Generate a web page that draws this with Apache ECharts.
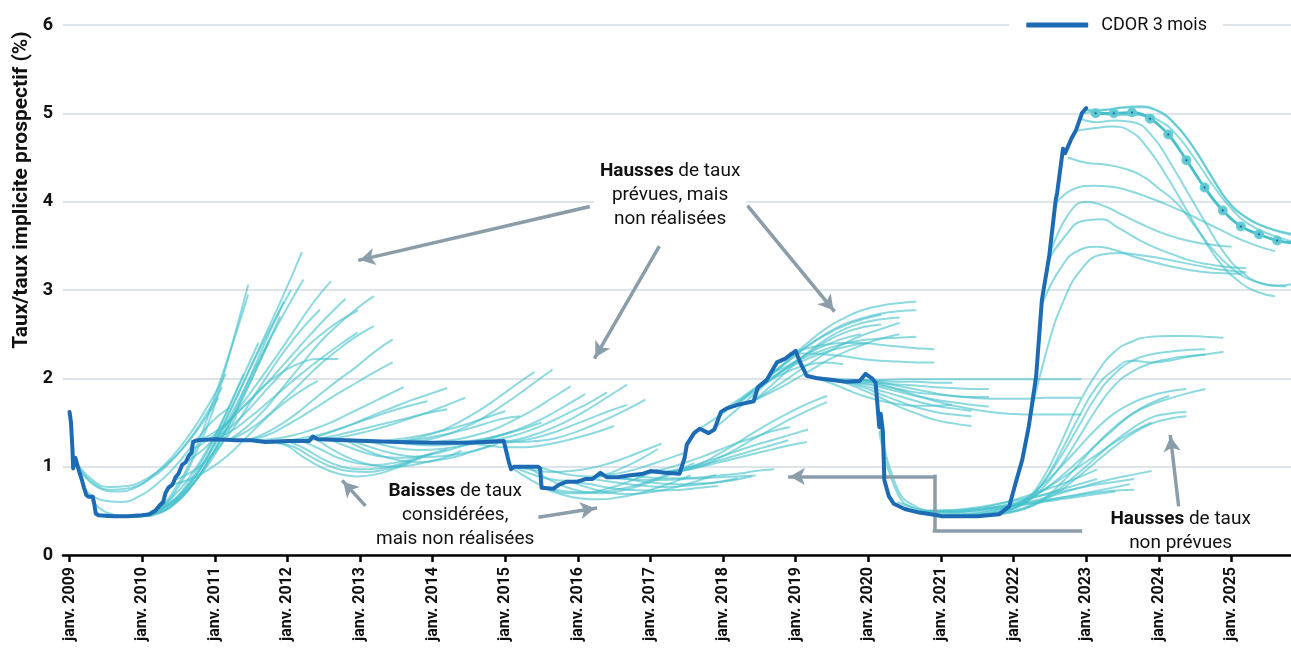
<!DOCTYPE html>
<html><head><meta charset="utf-8">
<script src="https://cdn.jsdelivr.net/npm/echarts@6/dist/echarts.min.js"></script>
<style>html,body{margin:0;padding:0;background:#fff}#c{width:1291px;height:666px}</style>
</head><body><div id="c"></div>
<script>
// ---------- DATA ----------
const STEP = 0.25; // forward-curve points are quarterly
const yearTicks = [2009,2010,2011,2012,2013,2014,2015,2016,2017,2018,2019,2020,2021,2022,2023,2024,2025];
const yTicks = [0,1,2,3,4,5,6];

// CDOR 3 mois : [année, taux %]
const cdor = [
[2009.0,1.62],[2009.02,1.5],[2009.04,1.2],[2009.05,0.98],[2009.07,1.0],[2009.08,1.1],[2009.1,1.08],[2009.13,0.95],[2009.17,0.85],[2009.2,0.76],[2009.23,0.68],[2009.26,0.66],[2009.32,0.66],[2009.34,0.58],[2009.36,0.47],[2009.4,0.45],[2009.6,0.44],[2009.8,0.44],[2010.0,0.45],[2010.1,0.46],[2010.18,0.5],[2010.24,0.56],[2010.29,0.6],[2010.32,0.7],[2010.36,0.76],[2010.42,0.8],[2010.46,0.88],[2010.5,0.92],[2010.55,1.02],[2010.6,1.05],[2010.64,1.12],[2010.68,1.16],[2010.7,1.28],[2010.76,1.3],[2011.0,1.31],[2011.3,1.3],[2011.5,1.3],[2011.7,1.28],[2012.0,1.29],[2012.3,1.29],[2012.35,1.34],[2012.42,1.31],[2012.8,1.3],[2013.5,1.28],[2014.0,1.27],[2014.5,1.27],[2014.98,1.29],[2015.05,1.05],[2015.08,0.97],[2015.12,1.0],[2015.45,1.0],[2015.48,0.98],[2015.5,0.76],[2015.66,0.75],[2015.75,0.8],[2015.85,0.83],[2016.0,0.83],[2016.1,0.86],[2016.2,0.86],[2016.31,0.93],[2016.4,0.88],[2016.55,0.88],[2016.7,0.9],[2016.9,0.92],[2017.0,0.95],[2017.2,0.93],[2017.4,0.92],[2017.47,1.1],[2017.5,1.25],[2017.6,1.38],[2017.68,1.43],[2017.8,1.38],[2017.88,1.42],[2017.97,1.62],[2018.05,1.66],[2018.2,1.7],[2018.42,1.74],[2018.48,1.9],[2018.6,1.98],[2018.74,2.18],[2018.85,2.22],[2019.0,2.31],[2019.05,2.2],[2019.15,2.03],[2019.3,2.0],[2019.5,1.98],[2019.7,1.96],[2019.88,1.97],[2019.96,2.05],[2020.05,2.0],[2020.1,1.95],[2020.15,1.45],[2020.17,1.6],[2020.2,1.4],[2020.22,0.85],[2020.28,0.67],[2020.35,0.58],[2020.5,0.52],[2020.7,0.48],[2020.95,0.45],[2021.0,0.44],[2021.5,0.44],[2021.8,0.46],[2021.94,0.55],[2022.03,0.82],[2022.12,1.08],[2022.21,1.46],[2022.31,2.02],[2022.39,2.89],[2022.49,3.38],[2022.58,4.02],[2022.6,4.1],[2022.68,4.6],[2022.71,4.55],[2022.8,4.72],[2022.86,4.81],[2022.94,5.0],[2023.0,5.06]
];

// Dernière courbe de taux implicites (avec marqueurs)
const latestStart = 2023.13;
const latestCurve = [5.0,5.0,5.01,4.94,4.76,4.47,4.16,3.9,3.72,3.63,3.56,3.53];

// Courbes de taux implicites : [début, [valeurs trimestrielles]]
const curves2009 = [
[2009.05,[1.1,0.86,0.77,0.78,0.86,1.0,1.2,1.46,1.78]],
[2009.1,[1.02,0.8,0.74,0.76,0.86,1.02,1.25,1.55,1.9]],
[2009.15,[0.95,0.76,0.72,0.76,0.9,1.1,1.36,1.68,2.05]],
[2009.2,[0.75,0.62,0.6,0.66,0.8,1.0,1.25,1.5,1.67]],
[2009.3,[0.62,0.47,0.44,0.46,0.54,0.68,0.9,1.2,1.58]],
[2009.4,[0.45,0.43,0.44,0.5,0.64,0.88,1.2,1.6,2.05]],
[2009.46,[0.44,0.43,0.44,0.5,0.72,1.1,1.6,2.3,3.06]],
[2009.46,[0.44,0.43,0.45,0.52,0.76,1.15,1.7,2.3,2.95]],
[2009.6,[0.44,0.43,0.46,0.56,0.78,1.1,1.5,1.95,2.4]],
[2009.75,[0.44,0.44,0.48,0.62,0.86,1.18,1.56,1.98,2.42]],
[2009.9,[0.44,0.46,0.56,0.76,1.05,1.4,1.8,2.25,2.7]],
[2009.95,[0.44,0.47,0.58,0.8,1.12,1.5,1.95,2.42,2.87]]
];
const curves2010 = [
[2010.05,[0.45,0.52,0.7,0.98,1.35,1.78,2.22,2.62,3.0]],
[2010.2,[0.5,0.62,0.85,1.2,1.62,2.05,2.5,2.95,3.43]],
[2010.22,[0.52,0.65,0.88,1.2,1.58,1.98,2.38,2.76,3.12]],
[2010.45,[0.85,0.95,1.12,1.37,1.68,2.0,2.3,2.56,2.78]],
[2010.42,[0.8,0.86,0.97,1.12,1.32,1.52,1.7,1.85,1.97]],
[2010.6,[1.05,1.2,1.42,1.68,1.96,2.25,2.55,2.85,3.1]],
[2010.7,[1.2,1.33,1.52,1.73,1.93,2.08,2.18,2.22,2.22]],
[2010.8,[1.3,1.42,1.6,1.8,2.02,2.25,2.48,2.7,2.9]],
[2010.97,[1.31,1.45,1.65,1.88,2.1,2.32,2.5,2.65,2.77]],
[2010.97,[1.31,1.4,1.55,1.72,1.9,2.07,2.23,2.38,2.52]],
[2011.19,[1.3,1.45,1.65,1.9,2.15,2.4,2.6,2.78,2.93]],
[2011.19,[1.3,1.4,1.55,1.75,1.95,2.15,2.32,2.47,2.59]],
[2011.45,[1.3,1.38,1.5,1.65,1.82,1.98,2.13,2.3,2.44]],
[2011.45,[1.3,1.35,1.45,1.57,1.7,1.83,1.95,2.07,2.18]]
];
const curves2012 = [
[2011.6,[1.3,1.32,1.36,1.42,1.5,1.6,1.7,1.8,1.9]],
[2011.93,[1.29,1.32,1.36,1.42,1.49,1.56,1.63,1.69,1.74]],
[2012.2,[1.29,1.35,1.42,1.5,1.59,1.67,1.75,1.82,1.89]],
[2012.2,[1.29,1.32,1.36,1.41,1.46,1.51,1.56,1.61,1.65]],
[2012.45,[1.31,1.33,1.37,1.42,1.48,1.55,1.62,1.7,1.78]],
[2011.7,[1.28,1.25,1.12,1.0,0.92,0.89,0.91,0.97,1.05]],
[2011.85,[1.28,1.22,1.1,1.0,0.95,0.94,0.97,1.03,1.1]],
[2012.0,[1.29,1.2,1.08,1.0,0.97,0.98,1.02,1.08,1.15]],
[2012.2,[1.29,1.2,1.1,1.04,1.02,1.04,1.08,1.14,1.2]],
[2012.4,[1.31,1.18,1.08,1.02,1.0,1.01,1.05,1.1,1.18]],
[2012.6,[1.3,1.22,1.15,1.11,1.1,1.12,1.16,1.22,1.28]],
[2012.8,[1.3,1.2,1.12,1.07,1.05,1.07,1.11,1.17,1.24]],
[2012.9,[1.29,1.22,1.16,1.12,1.11,1.12,1.15,1.2,1.26]]
];
const curves2013 = [
[2013.0,[1.29,1.29,1.31,1.34,1.38,1.43,1.49,1.56,1.63]],
[2013.1,[1.29,1.24,1.2,1.19,1.2,1.23,1.27,1.33,1.4]],
[2013.2,[1.28,1.28,1.3,1.33,1.37,1.42,1.48,1.54,1.57]],
[2013.4,[1.28,1.3,1.35,1.42,1.52,1.64,1.78,1.93,2.07]],
[2013.5,[1.28,1.25,1.24,1.25,1.28,1.32,1.37,1.43,1.5]],
[2013.65,[1.28,1.3,1.35,1.43,1.53,1.66,1.8,1.95,2.1]],
[2013.9,[1.27,1.29,1.32,1.37,1.44,1.54,1.65,1.78,1.91]],
[2014.1,[1.27,1.28,1.3,1.34,1.4,1.48,1.58,1.7,1.82]],
[2014.4,[1.27,1.28,1.31,1.36,1.43,1.52,1.62,1.72,1.84]],
[2014.68,[1.27,1.28,1.31,1.37,1.45,1.55,1.67,1.8,1.93]],
[2014.68,[1.27,1.27,1.29,1.33,1.39,1.47,1.55,1.63,1.7]],
[2014.93,[1.29,1.28,1.29,1.32,1.38,1.46,1.55,1.65,1.76]],
[2014.5,[1.27,1.24,1.22,1.22,1.24,1.28,1.33,1.39,1.46]]
];
const curves2015 = [
[2015.1,[1.0,0.92,0.86,0.84,0.85,0.9,0.98,1.08,1.2]],
[2015.15,[1.0,0.96,0.94,0.95,0.98,1.03,1.1,1.18,1.26]],
[2015.1,[0.98,0.85,0.75,0.7,0.7,0.74,0.8,0.88,0.97]],
[2015.3,[1.0,0.88,0.78,0.72,0.7,0.72,0.77,0.84,0.92]],
[2015.45,[1.0,0.94,0.9,0.89,0.91,0.95,1.01,1.08,1.15]],
[2015.55,[0.75,0.68,0.64,0.63,0.65,0.69,0.75,0.82,0.9]],
[2015.6,[0.75,0.72,0.71,0.72,0.75,0.8,0.87,0.95,1.04]],
[2015.9,[0.83,0.76,0.71,0.69,0.7,0.73,0.78,0.84,0.91]],
[2015.93,[0.83,0.8,0.76,0.74,0.73,0.73,0.74,0.76,0.78]],
[2016.2,[0.86,0.83,0.8,0.78,0.77,0.78,0.8,0.83,0.87]],
[2016.4,[0.88,0.86,0.83,0.81,0.8,0.81,0.82,0.85,0.89]],
[2016.45,[0.88,0.86,0.85,0.85,0.86,0.87,0.88,0.89,0.9]],
[2016.7,[0.9,0.88,0.87,0.87,0.88,0.9,0.92,0.95,0.97]],
[2016.9,[0.92,0.94,0.97,1.01,1.06,1.12,1.18,1.24,1.3]],
[2016.92,[0.93,0.97,1.03,1.1,1.18,1.26,1.33,1.4,1.45]],
[2017.15,[0.93,0.95,0.99,1.04,1.09,1.14,1.19,1.24,1.28]],
[2017.17,[0.93,0.97,1.03,1.1,1.17,1.24,1.3,1.36,1.42]],
[2017.43,[0.95,1.03,1.14,1.26,1.39,1.51,1.62,1.72,1.8]],
[2017.43,[0.95,1.0,1.09,1.2,1.32,1.43,1.54,1.64,1.73]]
];
const curves2018 = [
[2017.65,[1.42,1.55,1.7,1.85,1.98,2.08,2.15,2.18,2.16]],
[2017.9,[1.45,1.62,1.8,1.98,2.14,2.27,2.37,2.45,2.5]],
[2018.0,[1.64,1.78,1.92,2.05,2.16,2.25,2.32,2.37,2.4]],
[2018.18,[1.7,1.88,2.05,2.22,2.38,2.5,2.6,2.67,2.72]],
[2018.18,[1.7,1.85,2.0,2.15,2.29,2.42,2.52,2.58,2.61]],
[2018.43,[1.75,1.93,2.12,2.3,2.45,2.56,2.63,2.67,2.69]],
[2018.43,[1.75,1.88,2.02,2.16,2.29,2.4,2.49,2.56,2.63]],
[2018.43,[1.75,1.85,1.96,2.08,2.2,2.3,2.38,2.45,2.5]],
[2018.66,[2.05,2.22,2.4,2.56,2.68,2.77,2.82,2.85,2.87]],
[2018.66,[2.05,2.2,2.36,2.5,2.61,2.68,2.73,2.76,2.77]],
[2018.66,[2.05,2.15,2.25,2.33,2.39,2.43,2.45,2.46,2.47]],
[2018.91,[2.28,2.34,2.38,2.4,2.4,2.38,2.36,2.34,2.33]],
[2018.91,[2.28,2.28,2.27,2.25,2.22,2.2,2.19,2.18,2.18]]
];
const curves2019 = [
[2019.16,[2.02,2.0,1.99,1.98,1.97,1.96,1.96,1.95,1.95]],
[2019.15,[2.03,1.97,1.89,1.81,1.75,1.71,1.69,1.69,1.7]],
[2019.42,[1.99,1.97,1.92,1.86,1.8,1.74,1.69,1.66,1.63]],
[2019.42,[1.99,1.95,1.87,1.78,1.68,1.6,1.53,1.49,1.46]],
[2019.42,[1.99,1.96,1.9,1.82,1.74,1.67,1.62,1.59,1.57]],
[2019.66,[1.96,1.96,1.95,1.93,1.92,1.9,1.89,1.88,1.88]],
[2019.66,[1.96,1.94,1.9,1.85,1.8,1.76,1.73,1.7,1.68]],
[2019.66,[1.96,1.95,1.92,1.88,1.84,1.82,1.8,1.79,1.79]],
[2019.93,[1.98,1.98,1.99,1.99,1.99,1.99,1.99,1.99,1.99,1.99,1.99,1.99,1.99]],
[2019.93,[1.98,1.93,1.87,1.8,1.74,1.69,1.65,1.62,1.6,1.59,1.59,1.59,1.59]],
[2019.93,[1.98,1.95,1.91,1.87,1.83,1.8,1.78,1.77,1.77,1.77,1.78,1.78,1.78]]
];
const curves2020 = [
[2020.15,[1.5,0.75,0.55,0.5,0.5,0.52,0.55,0.6,0.66,0.73,0.8,0.88,0.97]],
[2020.15,[1.4,0.7,0.52,0.48,0.48,0.5,0.53,0.57,0.62,0.68,0.74,0.8,0.86]],
[2020.4,[0.6,0.53,0.5,0.5,0.51,0.53,0.55,0.57,0.6,0.63,0.66,0.69,0.72]],
[2020.6,[0.5,0.48,0.48,0.49,0.51,0.54,0.57,0.6,0.64,0.68,0.72,0.76,0.8]],
[2020.66,[0.49,0.49,0.49,0.5,0.53,0.56,0.59,0.62,0.65,0.68,0.71,0.73,0.74]],
[2020.66,[0.49,0.5,0.51,0.53,0.56,0.6,0.64,0.68,0.72,0.76,0.8,0.83,0.86]],
[2020.9,[0.45,0.46,0.47,0.5,0.54,0.59,0.64,0.7,0.76,0.82,0.87,0.91,0.95]],
[2020.9,[0.45,0.45,0.46,0.49,0.54,0.62,0.73,0.86,1.0,1.14,1.28,1.4,1.5]],
[2021.14,[0.44,0.45,0.47,0.52,0.6,0.72,0.88,1.06,1.25,1.43,1.6,1.72,1.8]],
[2021.38,[0.44,0.46,0.48,0.53,0.62,0.75,0.92,1.1,1.28,1.43,1.55,1.6,1.62]],
[2021.38,[0.44,0.46,0.48,0.52,0.6,0.72,0.88,1.05,1.22,1.37,1.48,1.54,1.57]],
[2021.38,[0.44,0.47,0.52,0.62,0.78,0.98,1.2,1.42,1.6,1.72,1.8,1.85,1.88]],
[2021.64,[0.45,0.47,0.52,0.62,0.8,1.02,1.25,1.45,1.6,1.7,1.77,1.83,1.88]],
[2021.64,[0.45,0.5,0.6,0.8,1.1,1.45,1.8,2.05,2.2,2.27,2.3,2.32,2.33]],
[2021.64,[0.45,0.5,0.58,0.75,1.0,1.32,1.65,1.92,2.08,2.17,2.22,2.25,2.27]],
[2021.89,[0.5,0.6,0.85,1.25,1.7,2.05,2.3,2.42,2.47,2.48,2.48,2.47,2.46]],
[2021.89,[0.5,0.58,0.8,1.15,1.55,1.9,2.1,2.2,2.18,2.2,2.24,2.27,2.3]]
];
const curves2022 = [
[2022.2,[1.45,2.3,2.9,3.25,3.4,3.42,3.4,3.37,3.33,3.29,3.25,3.22,3.2]],
[2022.4,[2.85,3.25,3.45,3.49,3.45,3.38,3.32,3.27,3.23,3.2,3.19,3.18]],
[2022.45,[3.3,3.6,3.78,3.8,3.7,3.58,3.48,3.4,3.33,3.29,3.26,3.25]],
[2022.5,[3.4,3.85,4.0,3.95,3.85,3.75,3.66,3.59,3.54,3.51,3.49]],
[2022.6,[4.0,4.15,4.18,4.17,4.12,4.05,3.97,3.88,3.78,3.68,3.58,3.5,3.44]],
[2022.75,[4.5,4.44,4.42,4.38,4.3,4.15,3.98,3.72,3.45,3.25,3.12,3.06,3.04]],
[2022.85,[4.8,4.83,4.85,4.8,4.6,4.3,3.95,3.6,3.3,3.1,2.98,2.93]],
[2022.9,[4.95,4.9,4.92,4.9,4.75,4.45,4.1,3.75,3.42,3.2,3.08,3.05,3.08]],
[2022.95,[5.0,5.03,5.06,5.07,5.04,4.9,4.65,4.32,4.0,3.82,3.72,3.66,3.62]],
[2023.0,[5.04,5.04,5.07,5.08,5.02,4.85,4.58,4.25,3.96,3.8,3.7,3.64,3.6]],
[2023.0,[5.04,4.99,4.98,4.98,4.92,4.75,4.48,4.18,3.92,3.74,3.64,3.57,3.52]]
];

// Annotations (coordonnées en données : [année, taux])
const annotTexts = [
  {coord:[2017.27,4.07], text:'{b|Hausses} de taux\nprévues, mais\nnon réalisées', bg:'#fff'},
  {coord:[2014.31,0.45], text:'{b|Baisses} de taux\nconsidérées,\nmais non réalisées', bg:null},
  {coord:[2024.3,0.27], text:'{b|Hausses} de taux\nnon prévues', bg:null}
];
const annotArrows = [
  [[2016.14,3.94],[2013.0,3.34]],
  [[2017.11,3.48],[2016.24,2.24]],
  [[2018.35,3.94],[2019.52,2.77]],
  [[2013.06,0.57],[2012.77,0.83]],
  [[2015.48,0.43],[2016.24,0.53]],
  [[2024.27,0.57],[2024.16,1.34]],
  [[2020.91,0.89],[2018.92,0.89]]
];
const annotBracket = [
  [[2022.92,0.28],[2020.91,0.28]],
  [[2020.91,0.28],[2020.91,0.89]]
];

// ---------- CHART ----------
const FONT = 'Roboto, "Noto Sans", sans-serif';
const FWD_COLOR = '#45c1cb';
const CDOR_COLOR = '#1c6bb4';
const ARROW_COLOR = '#8a9da8';

function toPts(start, vals){ return vals.map((v,i)=>[Math.round((start+i*STEP)*1000)/1000, v]); }

const allCurves = [].concat(curves2009, curves2010, curves2012, curves2013, curves2015, curves2018, curves2019, curves2020, curves2022);
const series = allCurves.map(c => ({
  type:'line', data: toPts(c[0], c[1]), smooth:0.5, symbol:'none', silent:true, z:2,
  lineStyle:{color:FWD_COLOR, width:2, opacity:0.62}
}));

series.push({
  type:'line', data: toPts(latestStart, latestCurve), smooth:0.4, symbol:'circle', symbolSize:6, showSymbol:true, silent:true, z:4,
  lineStyle:{color:'#3dbdc7', width:2.8, opacity:0.95},
  itemStyle:{color:'#175d9e', borderColor:'rgba(95,203,211,0.95)', borderWidth:4}
});

series.push({
  name:'CDOR 3 mois', type:'line', data: cdor, symbol:'none', silent:true, z:5,
  lineStyle:{color:CDOR_COLOR, width:4, cap:'round', join:'round'},
  itemStyle:{color:CDOR_COLOR}
});

const mlData = [];
annotArrows.forEach(a => mlData.push([{coord:a[0], symbol:'none'},{coord:a[1], symbol:'arrow'}]));
annotBracket.forEach(a => mlData.push([{coord:a[0], symbol:'none'},{coord:a[1], symbol:'none'}]));

series.push({
  type:'line', data:[], silent:true, z:6,
  markLine:{
    silent:true, animation:false, symbolSize:[13,15],
    label:{show:false}, emphasis:{disabled:true},
    lineStyle:{color:ARROW_COLOR, width:3.5, type:'solid', opacity:1, cap:'square'},
    data: mlData
  },
  markPoint:{
    silent:true, animation:false,
    data: annotTexts.map(t => ({
      coord:t.coord, symbol:'rect', symbolSize:[1,1], itemStyle:{color:'rgba(0,0,0,0)'},
      label:{show:true, position:'inside', formatter:t.text, color:'#111', fontFamily:FONT,
        fontSize:19, lineHeight:24, align:'center', backgroundColor:t.bg || 'transparent', padding:[2,6],
        rich:{b:{fontWeight:'bold', fontSize:19, lineHeight:24, color:'#111', fontFamily:FONT}}}
    }))
  }
});

const chart = echarts.init(document.getElementById('c'), null, {renderer:'canvas'});
chart.setOption({
  animation:false,
  backgroundColor:'#fff',
  grid:{left:63, right:0, top:25, bottom:111, containLabel:false},
  legend:{
    data:[{name:'CDOR 3 mois', icon:'roundRect'}],
    right:68, top:12, itemWidth:62, itemHeight:5, backgroundColor:'#fff',
    padding:[4,16,4,17], selectedMode:false,
    textStyle:{fontSize:18, color:'#111', fontFamily:FONT, padding:[0,0,0,8]}
  },
  xAxis:{
    type:'value', min:2008.91, max:2025.82,
    axisLine:{show:true, onZero:true, lineStyle:{color:'#000', width:2.5}},
    axisTick:{show:true, customValues:yearTicks, length:7, lineStyle:{color:'#000', width:2.5}},
    axisLabel:{show:true, customValues:yearTicks, rotate:90, margin:12, fontSize:16, fontWeight:'bold', color:'#111', fontFamily:FONT,
      formatter:v => 'janv. ' + v},
    splitLine:{show:false}
  },
  yAxis:{
    type:'value', min:0, max:6, interval:1,
    axisLine:{show:false}, axisTick:{show:false},
    axisLabel:{fontSize:18, fontWeight:'bold', color:'#111', margin:10, fontFamily:FONT,
      formatter:v => yTicks.indexOf(v) >= 0 ? String(v) : ''},
    splitLine:{lineStyle:{color:'#d3dce3', width:1.5}}
  },
  graphic:[{
    type:'text', x:22, y:190, rotation:Math.PI/2, silent:true,
    style:{text:'Taux/taux implicite prospectif (%)', font:'bold 21px ' + FONT, fill:'#111', align:'center', verticalAlign:'middle'}
  }],
  series: series
});
</script>
</body></html>
